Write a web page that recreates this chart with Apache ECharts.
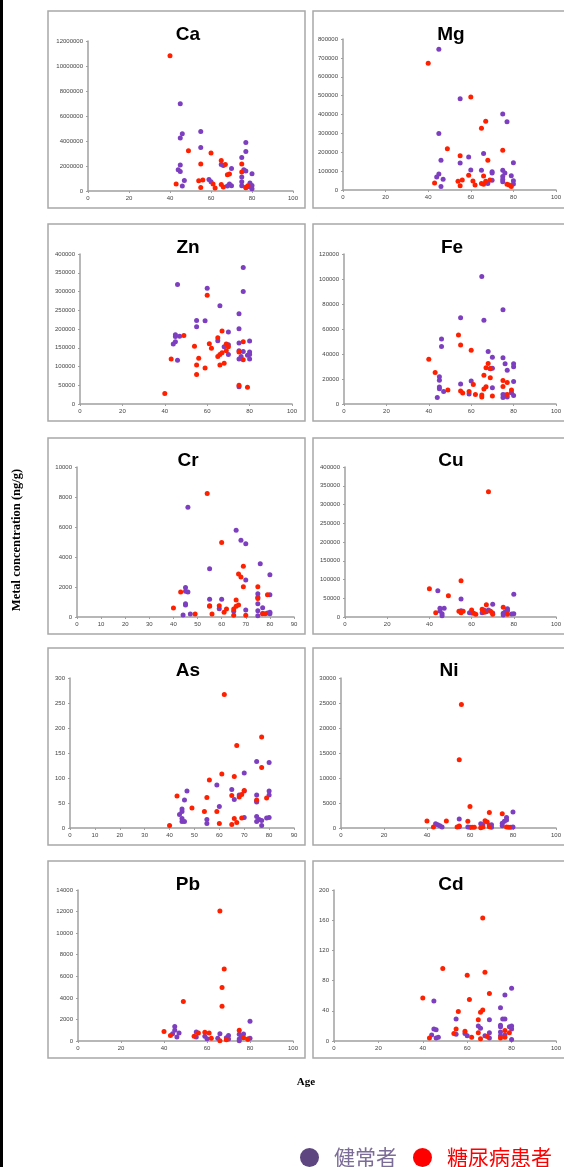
<!DOCTYPE html>
<html>
<head>
<meta charset="utf-8">
<script src="https://cdn.jsdelivr.net/npm/echarts@6/dist/echarts.min.js"></script>
<style>
  html, body { margin: 0; padding: 0; background: #fff; }
  #chart { width: 564px; height: 1167px; }
</style>
</head>
<body>
<div id="chart"></div>
<script>
// 健常者 = healthy, 糖尿病患者 = diabetic ; points are [age, concentration]
var caHealthy = [[45,6990000],[46,4590000],[45,4240000],[55,4770000],[55,3490000],[45,2080000],[44,1710000],[45,1570000],[47,850000],[46,400000],[59,930000],[60,750000],[65,2130000],[66,2050000],[70,1810000],[69,560000],[70,430000],[68,400000],[75,2690000],[77,3890000],[77,3170000],[76,1710000],[77,1600000],[75,1120000],[75,750000],[75,430000],[80,1390000],[79,640000],[80,450000],[80,190000],[79,320000]];
var caDiabetic = [[40,10830000],[43,560000],[49,3230000],[54,830000],[55,2160000],[55,290000],[56,880000],[60,3040000],[61,560000],[62,240000],[65,2450000],[65,530000],[67,2130000],[66,320000],[68,1310000],[69,1360000],[75,2160000],[75,1520000],[77,270000],[77,300000],[78,430000]];

var mgHealthy = [[45,746000],[45,299000],[46,157000],[45,85000],[44,69000],[47,57000],[46,19000],[55,484000],[55,143000],[59,175000],[60,106000],[65,104000],[66,194000],[70,97000],[70,90000],[68,34000],[70,51000],[75,403000],[77,362000],[75,104000],[76,90000],[75,72000],[75,55000],[75,44000],[79,76000],[80,145000],[80,49000],[80,32000]];
var mgDiabetic = [[40,671000],[43,37000],[49,219000],[54,46000],[55,182000],[55,23000],[56,53000],[59,78000],[60,493000],[61,48000],[62,27000],[65,327000],[67,364000],[66,74000],[66,30000],[65,34000],[68,157000],[69,53000],[75,210000],[77,30000],[78,27000],[79,19000],[67,46000]];

var znHealthy = [[46,319000],[45,185000],[45,180000],[47,181000],[45,166000],[44,160000],[46,117000],[55,223000],[55,206000],[59,222000],[60,309000],[66,262000],[65,169000],[70,192000],[68,153000],[70,132000],[70,158000],[75,241000],[75,201000],[75,163000],[75,142000],[75,120000],[77,364000],[77,300000],[77,140000],[76,127000],[80,168000],[80,139000],[80,132000],[80,120000],[79,130000],[75,46000]];
var znDiabetic = [[40,28000],[43,120000],[49,183000],[54,154000],[55,104000],[55,79000],[56,122000],[59,96000],[60,290000],[61,161000],[62,149000],[65,177000],[65,127000],[66,132000],[67,195000],[67,137000],[68,109000],[69,160000],[69,142000],[70,153000],[66,104000],[75,50000],[75,139000],[77,166000],[77,118000],[79,45000]];

var feHealthy = [[44,5300],[45,21800],[45,19100],[45,13600],[45,12200],[46,52100],[46,46000],[47,10100],[55,69100],[55,16000],[60,18400],[59,8000],[65,102000],[66,67000],[68,42000],[70,37500],[70,28700],[69,28200],[70,13000],[75,75500],[75,37000],[76,32200],[77,27100],[75,7700],[75,5300],[76,7200],[77,5600],[80,32200],[80,29800],[80,18100],[80,6900],[79,9000]];
var feDiabetic = [[40,35900],[43,25300],[49,11200],[54,55300],[55,47300],[55,10400],[56,8800],[59,10100],[60,43100],[61,15700],[62,7700],[65,7200],[65,5600],[66,23100],[66,12000],[67,13800],[67,29000],[68,32400],[69,21000],[69,28500],[70,6400],[75,18900],[75,14100],[77,17300],[77,7700],[79,11200]];

var crHealthy = [[44,130],[45,1970],[45,1710],[45,890],[45,800],[46,7320],[46,1660],[47,200],[55,3220],[55,1180],[60,1180],[59,550],[65,380],[66,5790],[68,5120],[70,4880],[70,2460],[70,470],[76,3550],[75,1550],[75,1310],[75,890],[75,420],[75,90],[77,620],[77,240],[80,2820],[80,1490],[80,310],[80,220],[79,270]];
var crDiabetic = [[40,600],[43,1660],[49,200],[54,8230],[55,750],[55,710],[56,200],[59,750],[60,4970],[61,310],[62,530],[65,110],[65,530],[66,1130],[66,710],[67,2860],[67,800],[68,2660],[69,3390],[69,2020],[70,110],[75,2020],[75,1240],[77,220],[79,1490],[78,220]];

var cuHealthy = [[44,70200],[45,23100],[45,16000],[46,8900],[47,23100],[46,3600],[55,48000],[55,16900],[59,11600],[60,10700],[66,17800],[67,14200],[68,18700],[70,33800],[70,10700],[65,11600],[75,9800],[75,5300],[76,14200],[77,22200],[77,16900],[80,60400],[80,8900],[79,8000]];
var cuDiabetic = [[40,75600],[43,11600],[49,56900],[54,15100],[55,96900],[55,11600],[56,15100],[60,18700],[61,9800],[62,7100],[65,20400],[67,32900],[68,334000],[69,15100],[70,7100],[75,25800],[77,7100],[66,12400]];

var asHealthy = [[44,27],[45,38],[45,33],[45,19],[45,13],[46,13],[46,56],[47,74],[55,17],[55,9],[59,86],[60,43],[65,77],[66,57],[68,66],[70,110],[70,74],[70,21],[75,133],[75,66],[75,54],[75,52],[75,23],[75,13],[76,17],[77,15],[77,5],[80,131],[80,74],[80,66],[80,21],[79,20]];
var asDiabetic = [[40,5],[43,64],[49,40],[54,33],[55,61],[56,96],[59,33],[60,9],[61,108],[62,267],[65,7],[65,65],[66,19],[66,103],[67,165],[67,11],[68,62],[69,20],[69,67],[70,75],[75,56],[77,182],[77,121],[79,60]];

var niHealthy = [[44,860],[45,660],[46,460],[47,200],[55,1790],[55,270],[59,200],[60,130],[65,860],[66,660],[69,530],[70,660],[70,130],[75,930],[75,460],[76,1330],[77,2120],[77,1590],[80,3190],[80,200],[79,130]];
var niDiabetic = [[40,1390],[43,200],[49,1390],[54,200],[55,13670],[55,400],[56,24680],[59,1330],[60,4310],[61,130],[62,130],[65,70],[66,200],[67,1460],[68,1190],[69,3120],[69,270],[75,2850],[77,200],[78,130]];

var pbHealthy = [[45,1340],[45,990],[44,680],[47,750],[46,370],[55,840],[55,370],[59,430],[60,220],[66,680],[65,250],[69,310],[70,500],[70,190],[75,620],[75,190],[77,650],[76,370],[80,1830],[80,250],[79,160],[75,30]];
var pbDiabetic = [[40,870],[43,500],[49,3660],[54,430],[56,750],[59,810],[61,750],[62,250],[66,12050],[66,30],[67,4970],[68,6680],[67,3230],[69,120],[75,990],[77,310],[79,190]];

var cdHealthy = [[45,53],[44,8],[45,16],[46,15],[46,4],[47,5],[55,29],[55,9],[59,10],[60,7],[65,20],[66,17],[68,7],[70,28],[70,11],[70,4],[75,44],[75,21],[75,19],[75,12],[75,7],[76,29],[77,29],[77,61],[77,8],[80,70],[80,20],[79,19],[80,16],[80,2]];
var cdDiabetic = [[40,57],[43,4],[49,96],[54,10],[55,16],[56,39],[59,13],[60,87],[61,55],[62,5],[65,28],[65,11],[66,3],[66,38],[67,41],[67,163],[68,91],[69,6],[70,63],[75,4],[77,14],[77,5],[79,11]];

var elements = ['Ca', 'Mg', 'Zn', 'Fe', 'Cr', 'Cu', 'As', 'Ni', 'Pb', 'Cd'];
var healthyData = [caHealthy, mgHealthy, znHealthy, feHealthy, crHealthy, cuHealthy, asHealthy, niHealthy, pbHealthy, cdHealthy];
var diabeticData = [caDiabetic, mgDiabetic, znDiabetic, feDiabetic, crDiabetic, cuDiabetic, asDiabetic, niDiabetic, pbDiabetic, cdDiabetic];
var xMax = [100, 100, 100, 100, 90, 100, 90, 100, 100, 100];
var xStep = [20, 20, 20, 20, 10, 20, 10, 20, 20, 20];
var yMax = [12000000, 800000, 400000, 120000, 10000, 400000, 300, 30000, 14000, 200];
var yStep = [2000000, 100000, 50000, 20000, 2000, 50000, 50, 5000, 2000, 40];
var seriesNames = ['健常者', '糖尿病患者'];

// plot boxes [left, top, width, height]
var plotBox = [
  [88, 41, 205, 150], [343, 39, 213, 151],
  [80, 254, 212, 150], [344, 254, 212, 150],
  [77, 467, 217, 150], [345, 467, 211, 150],
  [70, 678, 224, 150], [341, 678, 215, 150],
  [78, 890, 215, 151], [334, 890, 223, 151]
];
var titlePos = [
  [183, 20], [446, 20], [183, 233], [447, 233], [183, 446],
  [446, 446], [183, 656], [444, 656], [183, 870], [446, 870]
];
var rowTop = [11, 224, 438, 648, 861];
var rowH = [197, 197, 196, 197, 197];

var chart = echarts.init(document.getElementById('chart'));

var grids = [], xAxes = [], yAxes = [], series = [], titles = [];
var frames = [];
var axisColor = '#a0a0a0';
var purple = '#7d3fbf';
var red = '#ff2000';
var plain = function (v) { return String(v); };

for (var i = 0; i < elements.length; i++) {
  var b = plotBox[i];
  grids.push({ left: b[0], top: b[1], width: b[2], height: b[3] });
  xAxes.push({
    gridIndex: i, type: 'value', min: 0, max: xMax[i], interval: xStep[i],
    axisLine: { lineStyle: { color: axisColor, width: 1.5 } },
    axisTick: { show: true, length: 2, lineStyle: { color: axisColor } },
    axisLabel: { fontSize: 6, color: '#444', margin: 4, fontFamily: 'Liberation Sans', formatter: plain },
    splitLine: { show: false }
  });
  yAxes.push({
    gridIndex: i, type: 'value', min: 0, max: yMax[i], interval: yStep[i],
    axisLine: { show: true, lineStyle: { color: axisColor, width: 1.5 } },
    axisTick: { show: true, length: 2, lineStyle: { color: axisColor } },
    axisLabel: { fontSize: 6, color: '#444', margin: 5, fontFamily: 'Liberation Sans', formatter: plain },
    splitLine: { show: false }
  });
  series.push({
    name: seriesNames[0], type: 'scatter', xAxisIndex: i, yAxisIndex: i,
    symbolSize: 5, itemStyle: { color: purple, opacity: 1 }, data: healthyData[i]
  });
  series.push({
    name: seriesNames[1], type: 'scatter', xAxisIndex: i, yAxisIndex: i,
    symbolSize: 5, itemStyle: { color: red, opacity: 1 }, data: diabeticData[i]
  });
  titles.push({
    text: elements[i], left: titlePos[i][0], top: titlePos[i][1], textAlign: 'center',
    textStyle: { fontSize: 19, fontWeight: 'bold', color: '#000', fontFamily: 'Liberation Sans' }
  });
}

for (var r = 0; r < rowTop.length; r++) {
  frames.push({ type: 'rect', shape: { x: 48, y: rowTop[r], width: 257, height: rowH[r] },
    style: { fill: 'none', stroke: '#a8a8a8', lineWidth: 1.5 }, z: -1 });
  frames.push({ type: 'rect', shape: { x: 313, y: rowTop[r], width: 255, height: rowH[r] },
    style: { fill: 'none', stroke: '#a8a8a8', lineWidth: 1.5 }, z: -1 });
}
// black strip on the left edge
frames.push({ type: 'rect', shape: { x: 0, y: 0, width: 3, height: 1167 }, style: { fill: '#000' } });
frames.push({
  type: 'text', x: 17, y: 540, rotation: Math.PI / 2,
  style: { text: 'Metal concentration (ng/g)', font: 'bold 12.5px "Liberation Serif"', fill: '#000', align: 'center', verticalAlign: 'middle' }
});
frames.push({
  type: 'text', x: 306, y: 1082,
  style: { text: 'Age', font: 'bold 11px "Liberation Serif"', fill: '#000', align: 'center', verticalAlign: 'middle' }
});

chart.setOption({
  animation: false,
  title: titles,
  grid: grids,
  xAxis: xAxes,
  yAxis: yAxes,
  series: series,
  graphic: frames,
  legend: {
    left: 295, top: 1142, icon: 'circle', itemWidth: 19, itemHeight: 19, itemGap: 16,
    textStyle: { fontSize: 21, fontFamily: 'Noto Sans CJK JP', padding: [0, 0, 0, 10] },
    data: [
      { name: seriesNames[0], itemStyle: { color: '#5e4680' }, textStyle: { color: '#7c6c98' } },
      { name: seriesNames[1], itemStyle: { color: '#ff0000' }, textStyle: { color: '#ff0000' } }
    ]
  }
});
</script>
</body>
</html>
